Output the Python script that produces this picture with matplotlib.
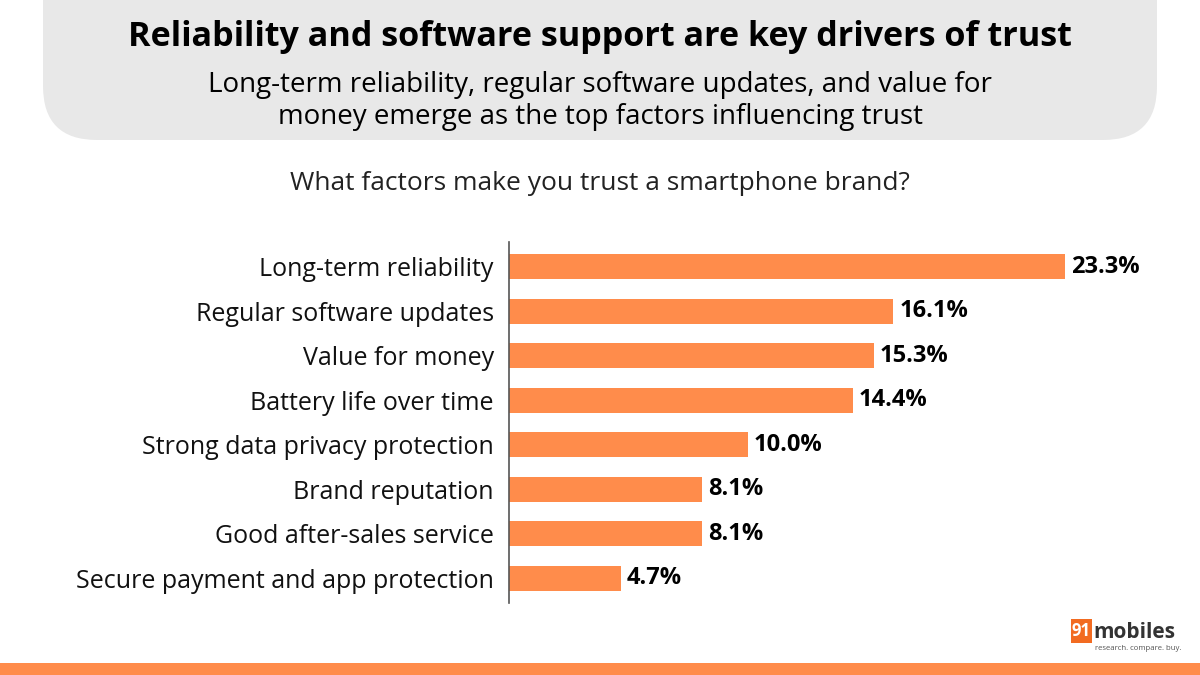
import matplotlib.pyplot as plt
from matplotlib.patches import FancyBboxPatch, Rectangle

# --- Data ---
categories = [
    "Long-term reliability",
    "Regular software updates",
    "Value for money",
    "Battery life over time",
    "Strong data privacy protection",
    "Brand reputation",
    "Good after-sales service",
    "Secure payment and app protection",
]
shares = [23.3, 16.1, 15.3, 14.4, 10.0, 8.1, 8.1, 4.7]

TITLE = "Reliability and software support are key drivers of trust"
SUBTITLE = ("Long-term reliability, regular software updates, and value for\n"
            "money emerge as the top factors influencing trust")
QUESTION = "What factors make you trust a smartphone brand?"

BAR_COLOR = "#FF8C4B"
HEADER_BG = "#E8E8E8"

plt.rcParams['font.family'] = ['Open Sans', 'DejaVu Sans']

fig = plt.figure(figsize=(12, 6.75), dpi=100)
W, H = 1200, 675

# header box with rounded bottom corners (top edge pushed off the canvas)
header = FancyBboxPatch((43 / W, 140 / H * -1 + 1), (1157 - 43) / W, 200 / H,
                        boxstyle="round,pad=0,rounding_size=0.045",
                        transform=fig.transFigure, facecolor=HEADER_BG,
                        edgecolor='none', mutation_aspect=W / H)
fig.patches.append(header)

fig.text(0.5, 1 - 37 / H, TITLE, ha='center', va='center',
         fontsize=24.6, fontweight='bold', color='black')
fig.text(0.5, 1 - 101 / H, SUBTITLE, ha='center', va='center',
         fontsize=20, color='black', linespacing=1.2)
fig.text(0.5, 1 - 184 / H, QUESTION, ha='center', va='center',
         fontsize=19, color='#222222')

# bar chart
ax = fig.add_axes([509 / W, 1 - 603 / H, (1105.5 - 509) / W, 361 / H])
y = list(range(len(categories)))
ax.barh(y, shares, height=0.56, color=BAR_COLOR)
ax.set_xlim(0, 25)
ax.set_ylim(len(categories) - 1 + 0.56, -0.56)

for yi, v in zip(y, shares):
    ax.text(v + 0.25, yi, f"{v:.1f}%", va='center', ha='left',
            fontsize=17, fontweight='bold', color='black')

ax.set_yticks(y)
ax.set_yticklabels(categories, fontsize=18, color='#111111')
ax.tick_params(axis='y', length=0, pad=11)
ax.set_xticks([])
for side in ['top', 'right', 'bottom']:
    ax.spines[side].set_visible(False)
ax.spines['left'].set_color('#555555')
ax.spines['left'].set_linewidth(1.2)

# logo
fig.patches.append(Rectangle((1071 / W, 1 - 643 / H), 21 / W, 24 / H,
                             transform=fig.transFigure, facecolor='#F26B21',
                             edgecolor='none'))
fig.text(1081.5 / W, 1 - 631 / H, "91", ha='center', va='center', fontsize=12,
         fontweight='bold', color='white')
fig.text(1093 / W, 1 - 632 / H, "mobiles", ha='left', va='center', fontsize=15,
         fontweight='bold', color='#333333')
fig.text(1095 / W, 1 - 648 / H, "research. compare. buy.", ha='left', va='center',
         fontsize=5.6, color='#555555')

# bottom stripe
fig.patches.append(Rectangle((0, 0), 1, 12 / H, transform=fig.transFigure,
                             facecolor=BAR_COLOR, edgecolor='none'))

fig.savefig("out.png", dpi=100)
